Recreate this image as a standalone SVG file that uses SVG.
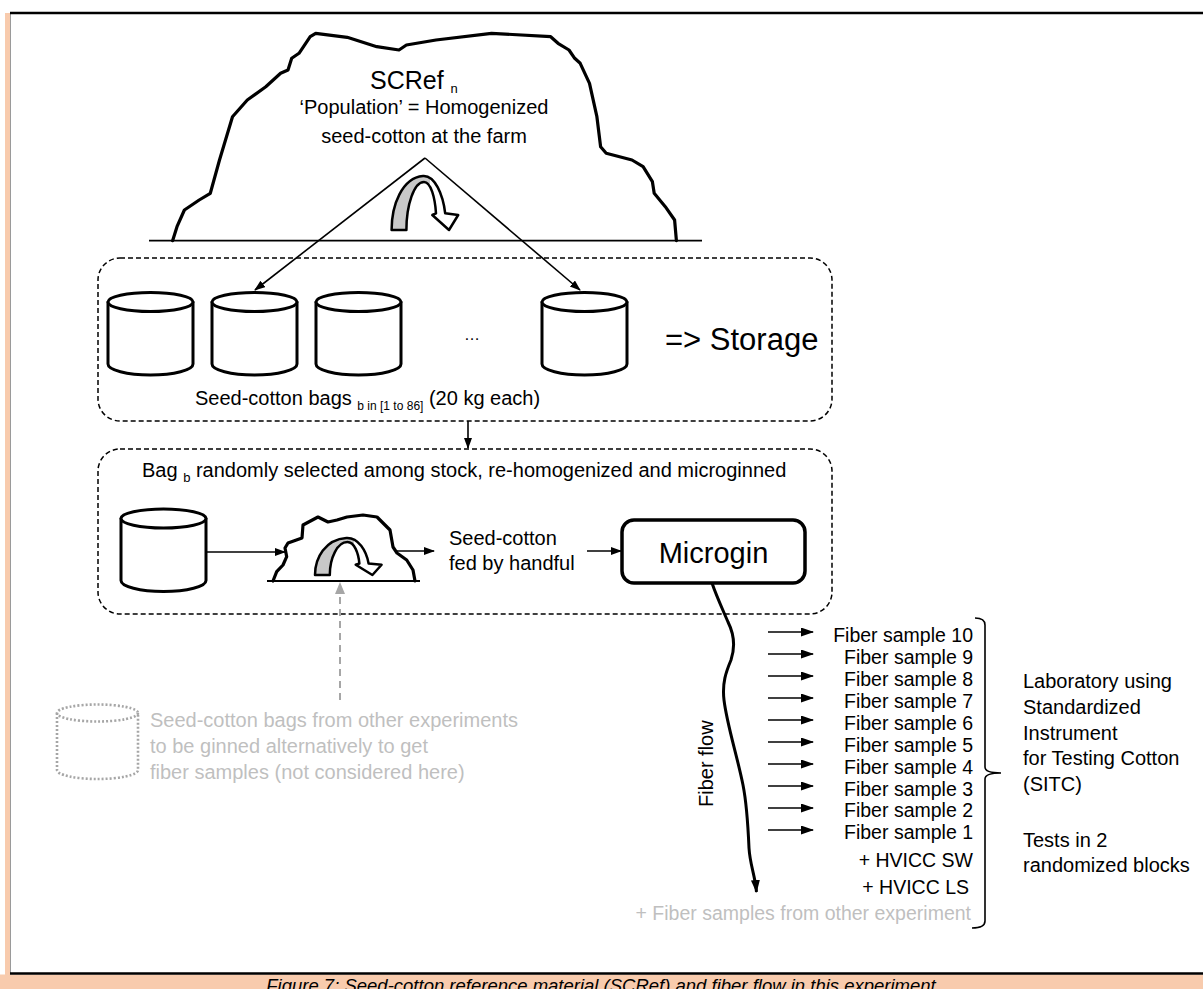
<svg xmlns="http://www.w3.org/2000/svg" width="1203" height="989" viewBox="0 0 1203 989">
  <style>
    .t { font-family: "Liberation Sans", Arial, sans-serif; fill: #000; }
    .grey { fill: #bfbfbf; }
    .ln { fill: none; stroke: #000; stroke-width: 1.6; }
    .thick { fill: none; stroke: #000; stroke-width: 3.2; stroke-linejoin: round; stroke-linecap: round; }
    .dash { fill: none; stroke: #000; stroke-width: 1.5; stroke-dasharray: 5 3; }
    .cyl { fill: #fff; stroke: #000; stroke-width: 3; stroke-linejoin: round; }
  </style>
  <defs>
    <marker id="arr" markerUnits="userSpaceOnUse" markerWidth="11" markerHeight="9" refX="10" refY="4" orient="auto">
      <path d="M0,0 L11,4 L0,8 Z" fill="#000"/>
    </marker>
    <marker id="arrBig" markerUnits="userSpaceOnUse" markerWidth="13" markerHeight="10" refX="12" refY="4.5" orient="auto">
      <path d="M0,0 L13,4.5 L0,9 Z" fill="#000"/>
    </marker>
    <marker id="arrGrey" markerUnits="userSpaceOnUse" markerWidth="12" markerHeight="10" refX="11" refY="5" orient="auto">
      <path d="M0,0 L12,5 L0,10 Z" fill="#a6a6a6"/>
    </marker>
    <linearGradient id="turnFill" gradientUnits="userSpaceOnUse" x1="391" y1="0" x2="459" y2="0">
      <stop offset="0" stop-color="#c8c8c8"/>
      <stop offset="0.58" stop-color="#c8c8c8"/>
      <stop offset="0.58" stop-color="#fff"/>
      <stop offset="1" stop-color="#fff"/>
    </linearGradient>
    <!-- U-turn arrow used for the homogenization symbol -->
    <path id="turn" d="M391.6,230 C391.6,205 402,178 423,176 C435,175 443,195 445.2,213.3 L458.2,215 L449,230 L432.3,215 L436,213.3 C435,198 431,182 424,182 C414,182 406.4,205 406.4,230 Z"
          fill="url(#turnFill)" stroke="#000" stroke-width="2.5" stroke-linejoin="round" vector-effect="non-scaling-stroke"/>
    <!-- cylinder (bag) of 85 px width -->
    <g id="bag">
      <path class="cyl" d="M0,9.5 V71.5 A42.5,11 0 0 0 85,71.5 V9.5 Z"/>
      <ellipse class="cyl" cx="42.5" cy="9.5" rx="42.5" ry="9.5"/>
    </g>
  </defs>

  <g font-size="20">
  <!-- page frame -->
  <rect x="0" y="0" width="1203" height="989" fill="#fff"/>
  <rect x="5" y="13" width="5" height="962" fill="#f8cbad"/>
  <line x1="10.5" y1="13" x2="10.5" y2="974" stroke="#9a9a9a" stroke-width="1"/>
  <line x1="10" y1="13" x2="1203" y2="13" stroke="#000" stroke-width="2.5"/>
  <rect x="0" y="974.5" width="1203" height="15" fill="#f8cbad"/>
  <line x1="10" y1="973.5" x2="1203" y2="973.5" stroke="#000" stroke-width="2.5"/>
  <text class="t" x="601" y="992" text-anchor="middle" font-style="italic" font-size="18.5">Figure 7: Seed-cotton reference material (SCRef) and fiber flow in this experiment</text>

  <!-- population of seed-cotton at the farm -->
  <g id="population">
    <path class="thick" fill="#fff" d="M172.6,240.7 L177,226.7 L184.4,210 L199.2,200 L210.3,193.3 L219.5,160 L232.5,116.7 L247.3,100 L265.8,86.7 L280.6,73.3 L288,70 L291.7,58.3 L299,53.3 L310.2,36.7 L315.7,33.3 L347.2,37.3 L376.8,46.7 L399,50 L406.4,45 L436,40 L491.5,33.3 L550.7,36.7 L558,43.3 L569,50 L574.7,58.3 L580.2,63.3 L589.5,83.3 L596.9,116.7 L600.6,146.7 L606.2,153.3 L632,160 L643.1,166.7 L652.4,181.7 L654.2,193.3 L665.3,206.7 L674.6,220 L676.4,240.7"/>
    <line x1="149" y1="240.7" x2="702" y2="240.7" stroke="#000" stroke-width="1.8"/>
    <text class="t" x="370" y="88.5" font-size="25">SCRef <tspan font-size="13" dy="4">n</tspan></text>
    <text class="t" x="424" y="114" text-anchor="middle">‘Population’ = Homogenized</text>
    <text class="t" x="424" y="143" text-anchor="middle">seed-cotton at the farm</text>
    <use href="#turn"/>
  </g>

  <!-- storage of bags -->
  <g id="storage">
    <rect class="dash" x="98" y="258" width="734" height="163" rx="22"/>
    <use href="#bag" x="108" y="292.5"/>
    <use href="#bag" x="212" y="292.5"/>
    <use href="#bag" x="316" y="292.5"/>
    <use href="#bag" x="542" y="292.5"/>
    <text class="t" x="464" y="340" font-size="16">…</text>
    <text class="t" x="665" y="350" font-size="31">=&gt; Storage</text>
    <text class="t" x="195" y="405">Seed-cotton bags <tspan font-size="12" dy="5">b in [1 to 86]</tspan> <tspan dy="-5">(20 kg each)</tspan></text>
  </g>

  <!-- selected bag, re-homogenized and microginned -->
  <g id="ginning">
    <rect class="dash" x="98" y="449" width="734" height="165" rx="22"/>
    <text class="t" x="142" y="477">Bag <tspan font-size="13" dy="5">b</tspan> <tspan dy="-5">randomly selected among stock, re-homogenized and microginned</tspan></text>
    <use href="#bag" x="121" y="509"/>
  </g>

  <g id="rehomogenization">
    <path class="thick" fill="#fff" d="M273,581 L276.7,571.7 L283,565 L286.7,556.7 L285,548 L288,543 L302,538 L303,525 L318,517 L328,522 L337,520 L347,517 L363,515 L377,517 L385,525 L390,530 L393,547 L397,553 L406.7,560 L413,570 L415,581"/>
    <line x1="267" y1="581" x2="420" y2="581" stroke="#000" stroke-width="1.8"/>
    <use href="#turn" transform="translate(315,538) scale(1,0.685) translate(-391.6,-176)"/>
  </g>

  <g id="feed-label">
    <text class="t" x="449" y="545">Seed-cotton</text>
    <text class="t" x="449" y="570">fed by handful</text>
  </g>

  <g id="microgin">
    <rect x="622" y="520" width="183" height="63" rx="12" fill="#fff" stroke="#000" stroke-width="3.5"/>
    <text class="t" x="713.5" y="563" text-anchor="middle" font-size="29">Microgin</text>
  </g>

  <!-- bags from other experiments -->
  <g id="other-bags">
    <path d="M57,713 V770 A40.5,9 0 0 0 138,770 V713" fill="none" stroke="#a6a6a6" stroke-width="2.6" stroke-dasharray="2 2"/>
    <ellipse cx="97.5" cy="713" rx="40.5" ry="8.5" fill="none" stroke="#a6a6a6" stroke-width="2.6" stroke-dasharray="2 2"/>
    <text class="t grey" x="150" y="727">Seed-cotton bags from other experiments</text>
    <text class="t grey" x="150" y="753">to be ginned alternatively to get</text>
    <text class="t grey" x="150" y="779">fiber samples (not considered here)</text>
  </g>

  <!-- fiber samples -->
  <g id="samples" text-anchor="end" font-size="19.5">
    <text class="t" x="973" y="642">Fiber sample 10</text>
    <text class="t" x="973" y="664">Fiber sample 9</text>
    <text class="t" x="973" y="686">Fiber sample 8</text>
    <text class="t" x="973" y="708">Fiber sample 7</text>
    <text class="t" x="973" y="730">Fiber sample 6</text>
    <text class="t" x="973" y="751.5">Fiber sample 5</text>
    <text class="t" x="973" y="773.5">Fiber sample 4</text>
    <text class="t" x="973" y="795.5">Fiber sample 3</text>
    <text class="t" x="973" y="817">Fiber sample 2</text>
    <text class="t" x="973" y="839">Fiber sample 1</text>
    <text class="t" x="973" y="867">+ HVICC SW</text>
    <text class="t" x="969" y="894">+ HVICC LS</text>
    <text class="t grey" x="971" y="920">+ Fiber samples from other experiment</text>
  </g>

  <g id="laboratory">
    <path class="ln" d="M975,618 Q985,618 985,625 L985,767 Q985,773 1001,773 Q985,773 985,779 L985,921 Q985,928 972,928"/>
    <text class="t" x="1023" y="688">Laboratory using</text>
    <text class="t" x="1023" y="714">Standardized</text>
    <text class="t" x="1023" y="740">Instrument</text>
    <text class="t" x="1023" y="765">for Testing Cotton</text>
    <text class="t" x="1023" y="791">(SITC)</text>
    <text class="t" x="1023" y="847">Tests in 2</text>
    <text class="t" x="1023" y="872">randomized blocks</text>
  </g>

  <!-- connectors -->
  <g id="connectors">
    <path class="ln" d="M425,158 L255,290" marker-end="url(#arr)"/>
    <path class="ln" d="M425,158 L580,290" marker-end="url(#arr)"/>
    <path class="ln" d="M468,421 L468,448" marker-end="url(#arr)"/>
    <path class="ln" d="M206,552 L285,552" marker-end="url(#arr)"/>
    <path class="ln" d="M396,551 L434,551" marker-end="url(#arr)"/>
    <path class="ln" d="M587,551 L621,551" marker-end="url(#arr)"/>
    <path d="M340,700 L340,583" fill="none" stroke="#a6a6a6" stroke-width="2" stroke-dasharray="7 5" marker-end="url(#arrGrey)"/>
    <path d="M712,583 C716,595 722,608 728,622 C734,634 735,648 731,660 C726,672 722,683 724,700 C727,725 737,755 743,785 C747,805 748,825 749,848 C750,865 755,875 756.5,892" fill="none" stroke="#000" stroke-width="3" marker-end="url(#arrBig)"/>
    <text class="t" transform="translate(713,807) rotate(-90)">Fiber flow</text>
    <g class="ln" stroke-width="1.8">
      <path d="M768,632 L813,632" marker-end="url(#arrBig)"/>
      <path d="M768,654 L813,654" marker-end="url(#arrBig)"/>
      <path d="M768,676 L813,676" marker-end="url(#arrBig)"/>
      <path d="M768,698 L813,698" marker-end="url(#arrBig)"/>
      <path d="M768,720 L813,720" marker-end="url(#arrBig)"/>
      <path d="M768,742 L813,742" marker-end="url(#arrBig)"/>
      <path d="M768,764 L813,764" marker-end="url(#arrBig)"/>
      <path d="M768,786 L813,786" marker-end="url(#arrBig)"/>
      <path d="M768,808 L813,808" marker-end="url(#arrBig)"/>
      <path d="M768,830 L813,830" marker-end="url(#arrBig)"/>
    </g>
  </g>
  </g>
</svg>
